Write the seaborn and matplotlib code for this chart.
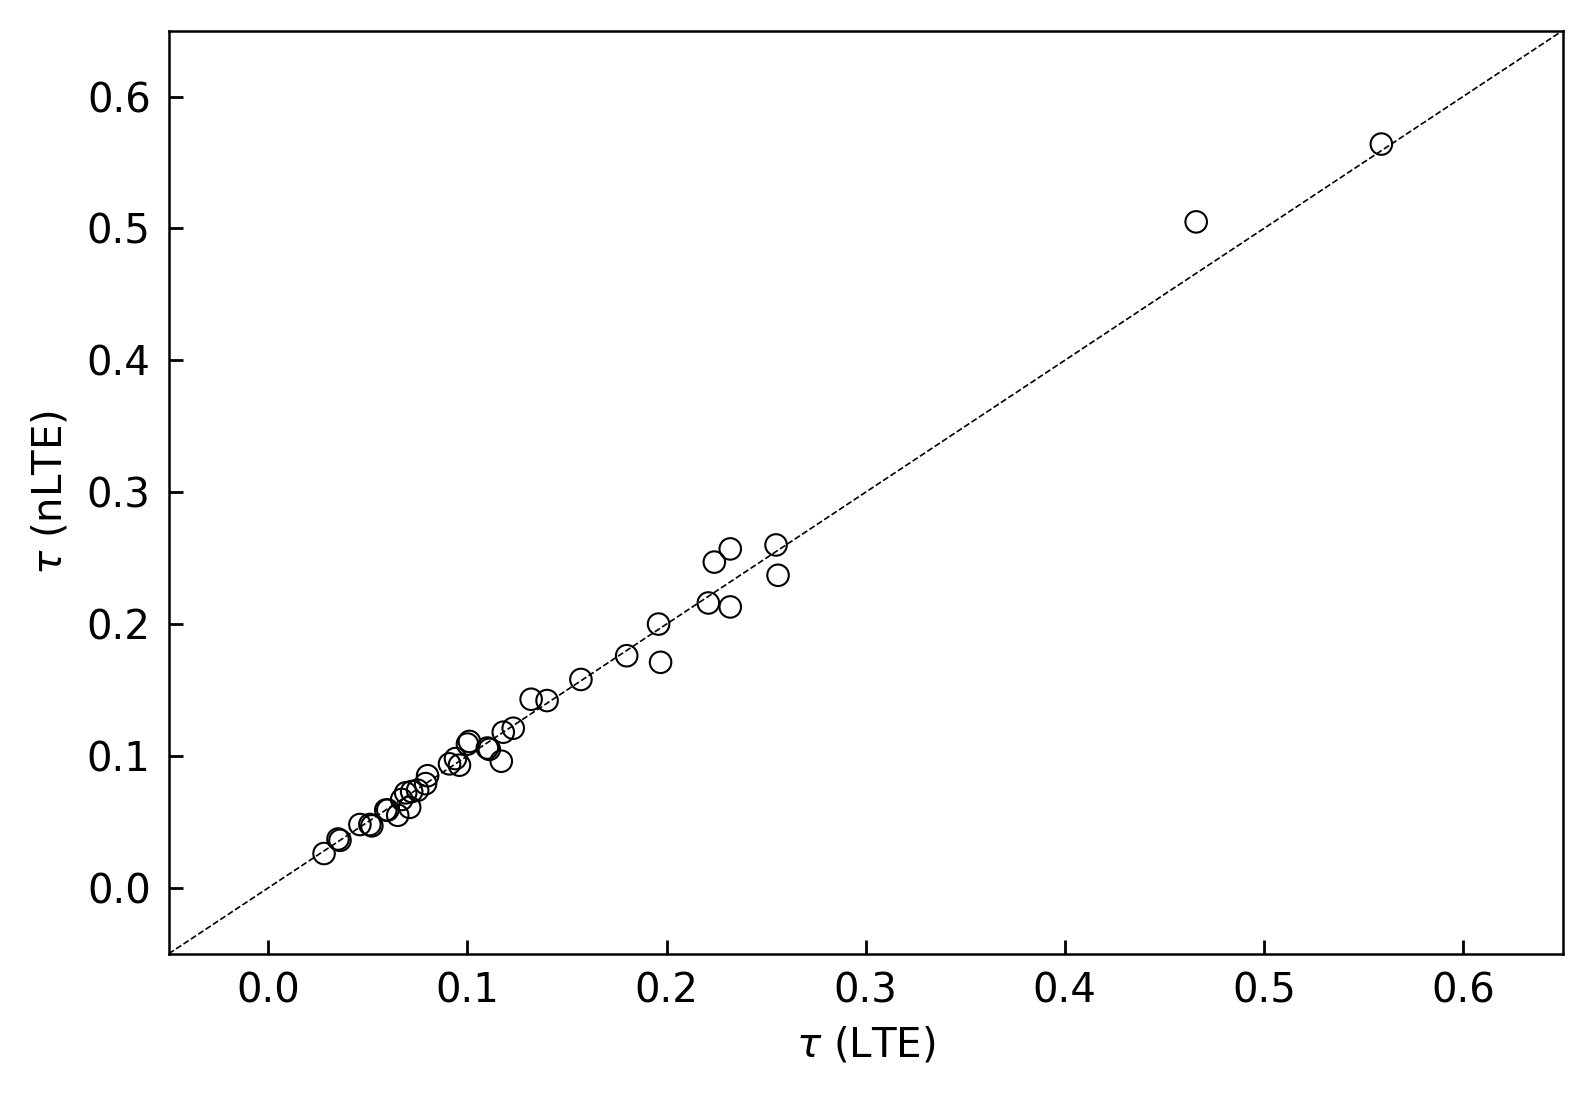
import numpy as np
import pandas as pd
import matplotlib
matplotlib.use("Agg")
import matplotlib.pyplot as plt
import seaborn as sns

# optical depth, LTE vs non-LTE
tau_lte = [0.028, 0.036, 0.035, 0.046, 0.052, 0.051, 0.059, 0.060, 0.065, 0.067,
           0.069, 0.071, 0.072, 0.075, 0.079, 0.080, 0.091, 0.094, 0.096, 0.101,
           0.100, 0.110, 0.111, 0.117, 0.118, 0.123, 0.132, 0.140, 0.157, 0.180,
           0.196, 0.197, 0.221, 0.224, 0.232, 0.232, 0.255, 0.256, 0.466, 0.559]
tau_nlte = [0.026, 0.036, 0.037, 0.048, 0.047, 0.048, 0.059, 0.059, 0.055, 0.067,
            0.072, 0.061, 0.073, 0.074, 0.079, 0.085, 0.094, 0.098, 0.093, 0.111,
            0.109, 0.106, 0.105, 0.096, 0.118, 0.121, 0.143, 0.142, 0.158, 0.176,
            0.200, 0.171, 0.216, 0.247, 0.257, 0.213, 0.260, 0.237, 0.505, 0.564]

df = pd.DataFrame({"lte": tau_lte, "nlte": tau_nlte})

sns.set_style("white")
plt.rcParams["font.family"] = ["DejaVu Sans"]
plt.rcParams["text.color"] = "black"
plt.rcParams["axes.labelcolor"] = "black"
plt.rcParams["xtick.color"] = "black"
plt.rcParams["ytick.color"] = "black"

fig, ax = plt.subplots(figsize=(7.96, 5.475), dpi=200)
fig.subplots_adjust(left=0.106, right=0.9815, top=0.972, bottom=0.129)

lims = (-0.05, 0.65)
ax.plot(lims, lims, ls="--", color="black", lw=0.6, zorder=1)
sns.scatterplot(data=df, x="lte", y="nlte", ax=ax, s=60, facecolor="none",
                edgecolor="black", linewidth=0.75, zorder=2)

ax.set_xlim(lims)
ax.set_ylim(lims)
ax.set_xticks(np.arange(0, 0.61, 0.1))
ax.set_yticks(np.arange(0, 0.61, 0.1))
ax.set_xlabel(r"$\tau$ (LTE)", fontsize=14.5, labelpad=5)
ax.set_ylabel(r"$\tau$ (nLTE)", fontsize=14.5, labelpad=6)
ax.tick_params(direction="in", length=5, width=1, labelsize=14.5, pad=6.5,
               bottom=True, left=True)
for sp in ax.spines.values():
    sp.set_color("black")
    sp.set_linewidth(0.9)

fig.savefig("out.png", dpi=200)
